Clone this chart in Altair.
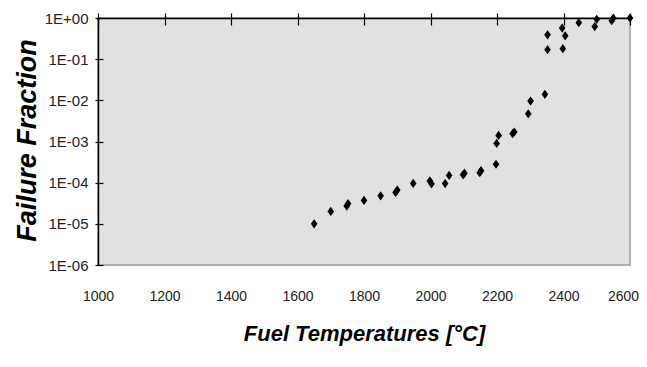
import altair as alt
import pandas as pd

temps = [1650, 1700, 1748, 1752, 1800, 1850, 1895, 1900, 1948, 1998, 2003,
         2044, 2056, 2098, 2102, 2148, 2152, 2197, 2199, 2205, 2247, 2252,
         2294, 2301, 2344, 2352, 2352, 2398, 2396, 2405, 2446, 2494, 2500,
         2545, 2550, 2600]
fractions = [1.0e-5, 2.0e-5, 2.7e-5, 3.1e-5, 3.7e-5, 4.8e-5, 5.8e-5, 6.6e-5,
             9.6e-5, 1.1e-4, 9.4e-5, 9.5e-5, 1.5e-4, 1.55e-4, 1.7e-4, 1.75e-4,
             1.95e-4, 2.8e-4, 9.0e-4, 1.4e-3, 1.55e-3, 1.7e-3, 4.7e-3, 9.6e-3,
             1.4e-2, 0.17, 0.39, 0.18, 0.57, 0.37, 0.77, 0.62, 0.93, 0.86,
             1.0, 1.0]

x_ticks = [1000, 1200, 1400, 1600, 1800, 2000, 2200, 2400, 2600]
y_ticks = [1e-6, 1e-5, 1e-4, 1e-3, 1e-2, 1e-1, 1.0]

df = pd.DataFrame({"T": temps, "F": fractions})

LABEL_FONT = "Liberation Sans Narrow, Arial Narrow, Liberation Sans, sans-serif"
TITLE_FONT = "Liberation Sans, Arial, sans-serif"

xs = alt.Scale(domain=[1000, 2600], nice=False, zero=False)
ys = alt.Scale(type="log", domain=[1e-6, 1], nice=False)

diamond = "M0,-1L0.72,0L0,1L-0.72,0Z"

points = alt.Chart(df).mark_point(
    shape=diamond, filled=True, color="black", opacity=1, size=85
).encode(
    x=alt.X("T:Q", scale=xs, axis=alt.Axis(
        orient="bottom", values=x_ticks, format="d", labelOverlap=False,
        labelFlush=False, domain=False, ticks=False, tickSize=0,
        grid=False, labelFont=LABEL_FONT, labelFontSize=14, labelColor="#222",
        labelBaseline="middle", labelPadding=31,
        labelOffset={"condition": {"test": "datum.value >= 2600", "value": -7},
                     "value": 0},
        title="Fuel Temperatures [°C]", titleFont=TITLE_FONT,
        titleFontSize=22, titleFontStyle="italic", titleFontWeight="bold",
        titleColor="black", titleY=68, titleBaseline="middle")),
    y=alt.Y("F:Q", scale=ys, axis=alt.Axis(
        orient="left", values=y_ticks, domain=False, offset=-5, tickSize=8,
        tickColor="black", tickWidth=1.2, grid=False, labelFont=LABEL_FONT,
        labelFontSize=15, labelColor="#222", labelPadding=7, labelOverlap=False,
        labelFlush=False,
        labelExpr="datum.value >= 1 ? '1E+00' : '1E-0' + round(-log(datum.value)/LN10)",
        title="Failure Fraction", titleFont=TITLE_FONT, titleFontSize=27,
        titleFontStyle="italic", titleFontWeight="bold", titleColor="black",
        titleAngle=-90, titleX=-76, titleY=122, titleAlign="center",
        titleBaseline="middle")),
)

frame1 = alt.Chart(df).mark_point(opacity=0).encode(
    x=alt.X("T:Q", scale=xs, axis=alt.Axis(
        orient="top", values=x_ticks, domain=False, offset=-7, tickSize=12,
        tickColor="black", tickWidth=1.2, labels=False, grid=False, title=None)),
    y=alt.Y("F:Q", scale=ys, axis=alt.Axis(
        orient="left", domain=True, domainColor="black", domainWidth=1.5,
        ticks=False, labels=False, grid=False, title=None)),
)

frame2 = alt.Chart(df).mark_point(opacity=0).encode(
    x=alt.X("T:Q", scale=xs, axis=alt.Axis(
        orient="top", domain=True, domainColor="black", domainWidth=1.5,
        ticks=False, labels=False, grid=False, title=None)),
    y=alt.Y("F:Q", scale=ys, axis=None),
)

chart = alt.layer(points, frame1, frame2).resolve_axis(
    x="independent", y="independent"
).properties(
    width=532, height=247,
    autosize=alt.AutoSizeParams(type="none"),
    padding={"left": 90, "top": 10, "right": 9, "bottom": 90},
    background="white",
).configure_view(
    fill="#e1e1e1", stroke="#9a9a9a", strokeWidth=1.5
)

chart.save("out.html", embed_options={"renderer": "svg", "actions": False})
